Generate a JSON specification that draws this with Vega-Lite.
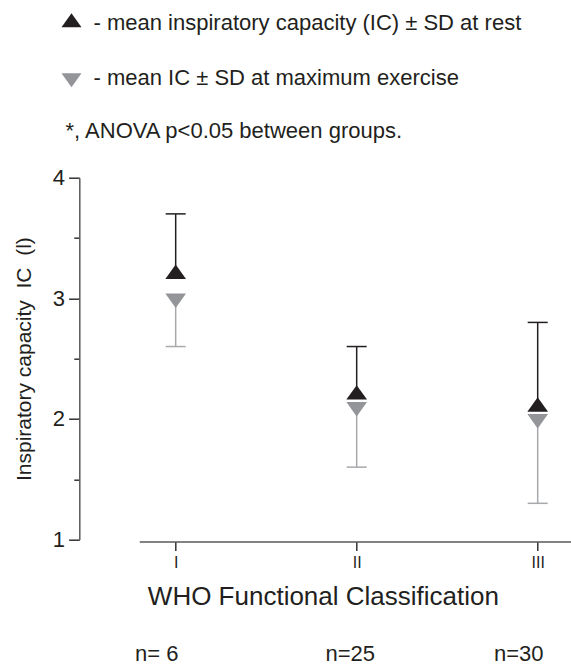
{
  "$schema": "https://vega.github.io/schema/vega-lite/v6.json",
  "width": 431.7,
  "height": 361.8,
  "autosize": {"type": "none"},
  "padding": {"left": 139.3, "top": 177.7, "right": 0, "bottom": 126.5},
  "background": "white",
  "config": {
    "view": {"stroke": null},
    "font": "Liberation Sans",
    "axis": {"grid": false}
  },
  "title": {
    "text": "*, ANOVA p<0.05 between groups.",
    "anchor": "start",
    "frame": "group",
    "fontSize": 22,
    "fontWeight": "normal",
    "color": "#231f20",
    "dx": -73.8,
    "dy": 152.7,
    "baseline": "alphabetic"
  },
  "data": {
    "values": [
      {"group": "I", "condition": "rest", "mean": 3.2, "sd_end": 3.7},
      {"group": "I", "condition": "exercise", "mean": 3.0, "sd_end": 2.6},
      {"group": "II", "condition": "rest", "mean": 2.2, "sd_end": 2.6},
      {"group": "II", "condition": "exercise", "mean": 2.1, "sd_end": 1.6},
      {"group": "III", "condition": "rest", "mean": 2.1, "sd_end": 2.8},
      {"group": "III", "condition": "exercise", "mean": 2.0, "sd_end": 1.3}
    ]
  },
  "layer": [
    {
      "mark": {"type": "rule", "strokeWidth": 1.5},
      "encoding": {
        "x": {
          "field": "group",
          "type": "nominal",
          "scale": {"type": "point", "domain": ["I", "II", "III"], "padding": 0.1925, "align": 0.522},
          "axis": {
            "title": "WHO Functional Classification",
            "orient": "bottom",
            "offset": 2,
            "labelAngle": 0,
            "labelFontSize": 16,
            "labelPadding": 4,
            "labelColor": "#231f20",
            "tickSize": 9,
            "tickWidth": 1.5,
            "tickColor": "#333333",
            "domainColor": "#595959",
            "domainWidth": 1.5,
            "titleFontSize": 26,
            "titleFontWeight": "normal",
            "titleColor": "#231f20",
            "titleX": 183.6,
            "titleY": 63.3,
            "titleAlign": "center",
            "titleBaseline": "alphabetic"
          }
        },
        "y": {
          "field": "mean",
          "type": "quantitative",
          "scale": {"domain": [1, 4], "nice": false, "zero": false},
          "axis": {
            "title": "Inspiratory capacity\u00a0 IC\u00a0 (l)",
            "offset": 60,
            "values": [1, 1.5, 2, 2.5, 3, 3.5, 4],
            "labelExpr": "datum.value % 1 == 0 ? format(datum.value, 'd') : ''",
            "tickSize": {"condition": {"test": "datum.value % 1 != 0", "value": 5.5}, "value": 10.7},
            "tickWidth": 1.5,
            "tickColor": "#333333",
            "domainColor": "#595959",
            "domainWidth": 1.5,
            "labelFontSize": 22,
            "labelPadding": 4,
            "labelColor": "#231f20",
            "titleFontSize": 21,
            "titleFontWeight": "normal",
            "titleColor": "#231f20",
            "titlePadding": 18
          }
        },
        "y2": {"field": "sd_end"},
        "color": {"condition": {"test": "datum.condition == 'rest'", "value": "#231f20"}, "value": "#a7a9ac"}
      }
    },
    {
      "mark": {"type": "tick", "thickness": 1.5, "size": 20, "opacity": 1},
      "encoding": {
        "x": {
          "field": "group",
          "type": "nominal",
          "axis": {
            "title": null,
            "orient": "bottom",
            "offset": 101,
            "domain": false,
            "ticks": false,
            "labelAngle": 0,
            "labelFontSize": 22,
            "labelColor": "#231f20",
            "labelPadding": 3,
            "labelExpr": "datum.value == 'I' ? 'n= 6' : datum.value == 'II' ? 'n=25' : 'n=30'",
            "labelOffset": {"condition": {"test": "datum.value == 'II'", "value": -7}, "value": -19.5}
          }
        },
        "y": {"field": "sd_end", "type": "quantitative"},
        "color": {"condition": {"test": "datum.condition == 'rest'", "value": "#231f20"}, "value": "#a7a9ac"}
      }
    },
    {
      "mark": {"type": "point", "filled": true, "size": 428, "opacity": 1, "strokeWidth": 0},
      "encoding": {
        "x": {"field": "group", "type": "nominal", "axis": null},
        "y": {"field": "mean", "type": "quantitative"},
        "fill": {
          "field": "condition",
          "type": "nominal",
          "scale": {"domain": ["rest", "exercise"], "range": ["#231f20", "#939598"]},
          "legend": {
            "title": null,
            "orient": "none",
            "legendX": -78.8,
            "legendY": -166.2,
            "labelExpr": "datum.value == 'rest' ? '- mean inspiratory capacity (IC) ± SD at rest' : '- mean IC ± SD at maximum exercise'",
            "labelFontSize": 22,
            "labelColor": "#231f20",
            "labelOffset": 11,
            "labelLimit": 600,
            "symbolSize": 400,
            "symbolStrokeWidth": 0,
            "rowPadding": 33.5,
            "padding": 0
          }
        },
        "shape": {
          "field": "condition",
          "type": "nominal",
          "scale": {"domain": ["rest", "exercise"], "range": ["M-1,0.467L1,0.467L0,-0.933Z", "M-1,-0.467L1,-0.467L0,0.933Z"]},
          "legend": {
            "title": null,
            "orient": "none",
            "legendX": -78.8,
            "legendY": -166.2,
            "labelExpr": "datum.value == 'rest' ? '- mean inspiratory capacity (IC) ± SD at rest' : '- mean IC ± SD at maximum exercise'",
            "labelFontSize": 22,
            "labelColor": "#231f20",
            "labelOffset": 11,
            "labelLimit": 600,
            "symbolSize": 400,
            "symbolStrokeWidth": 0,
            "rowPadding": 33.5,
            "padding": 0
          }
        }
      }
    }
  ],
  "resolve": {"axis": {"x": "independent"}}
}
